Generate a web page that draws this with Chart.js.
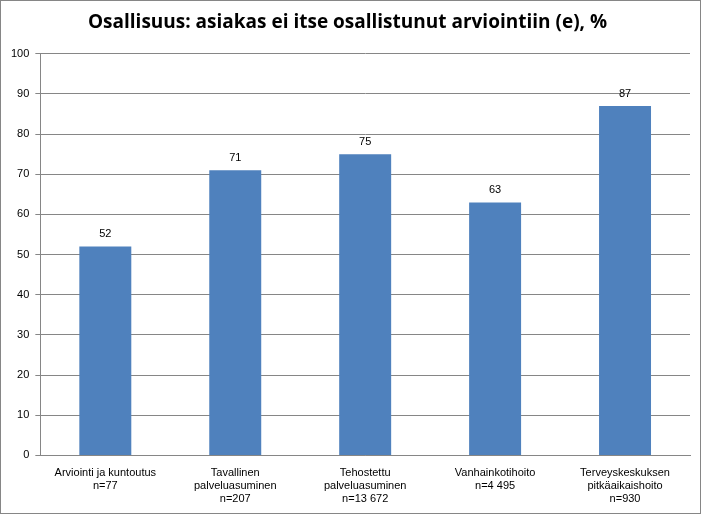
<!DOCTYPE html>
<html><head><meta charset="utf-8">
<script src="https://cdn.jsdelivr.net/npm/chart.js@4"></script>
<style>html,body{margin:0;padding:0;background:#fff}#w{width:699px;height:512px;border:1px solid #868686;position:relative}</style>
</head><body><div id="w"><canvas id="c"></canvas></div>
<script>
const title = "Osallisuus: asiakas ei itse osallistunut arviointiin (e), %";
const categories = [["Arviointi ja kuntoutus","n=77"],["Tavallinen","palveluasuminen","n=207"],["Tehostettu","palveluasuminen","n=13 672"],["Vanhainkotihoito","n=4 495"],["Terveyskeskuksen","pitkäaikaishoito","n=930"]];
const values = [52,71,75,63,87];
const yTicks = [0,10,20,30,40,50,60,70,80,90,100];

const labelPlugin = {id:'lbl',afterDatasetsDraw(ch){
  const ctx=ch.ctx; const meta=ch.getDatasetMeta(0);
  ctx.save(); ctx.font='11px "Liberation Sans", Arial'; ctx.fillStyle='#000'; ctx.textAlign='center'; ctx.textBaseline='bottom';
  meta.data.forEach((b,i)=>ctx.fillText(values[i],b.x,b.y-7));
  ctx.restore();
}};
new Chart(document.getElementById('c'),{
  type:'bar',
  data:{labels:categories,datasets:[{data:values,backgroundColor:'#4f81bd',categoryPercentage:1,barPercentage:0.4}]},
  options:{responsive:true,maintainAspectRatio:false,animation:false,
    layout:{padding:{left:4,right:10,top:0,bottom:4}},
    plugins:{legend:{display:false},tooltip:{enabled:false},
      title:{display:true,text:title,font:{family:'"Open Sans", Arial',size:19,weight:'bold'},color:'#000',padding:{top:10,bottom:20}}},
    scales:{
      y:{min:0,max:100,afterBuildTicks(a){a.ticks=yTicks.map(v=>({value:v}));},
        ticks:{font:{family:'"Liberation Sans", Arial',size:11},color:'#000',padding:6},
        grid:{color:'#868686',tickLength:5},border:{color:'#868686'}},
      x:{ticks:{font:{family:'"Liberation Sans", Arial',size:11},color:'#000',maxRotation:0,autoSkip:false},
        grid:{display:false,offset:true},border:{color:'#868686'}}
    }}
  ,plugins:[labelPlugin]});
</script></body></html>
